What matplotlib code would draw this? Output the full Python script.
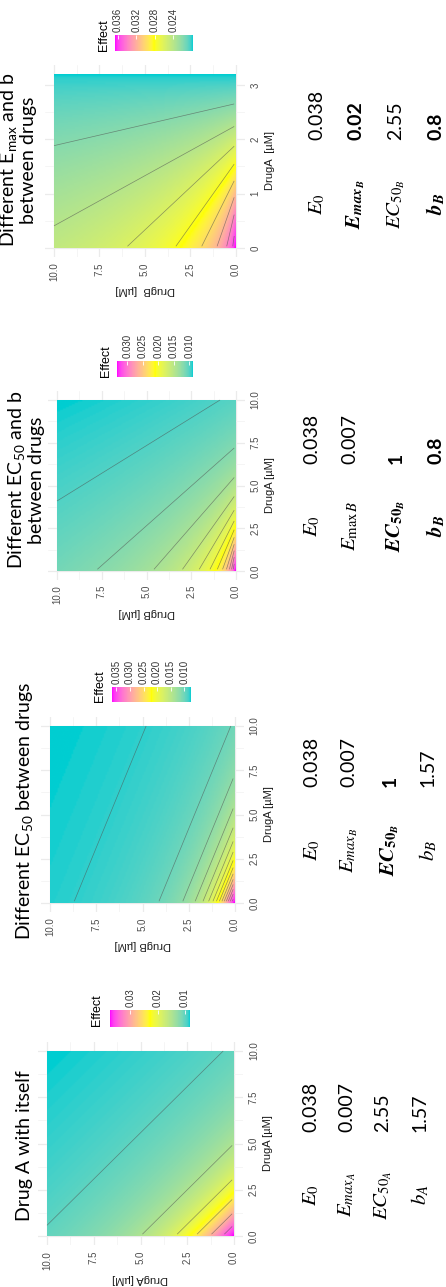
import numpy as np
import matplotlib
matplotlib.use("Agg")
import matplotlib.pyplot as plt
from matplotlib.colors import ListedColormap, to_rgb

W, H, DPI = 446, 1287, 100

# ---- panel content (landscape order, drawn rotated on a portrait page) ----
titles = [
    "Different E$_\\mathregular{max}$ and b\nbetween drugs",
    "Different EC$_\\mathregular{50}$ and b\nbetween drugs",
    "Different EC$_\\mathregular{50}$ between drugs",
    "Drug A with itself",
]
e0 = [0.038, 0.038, 0.038, 0.038]
emax_a = [0.007, 0.007, 0.007, 0.007]
ec50_a = [2.55, 2.55, 2.55, 2.55]
hill_a = [1.57, 1.57, 1.57, 1.57]
emax_b = [0.02, 0.007, 0.007, 0.007]
ec50_b = [2.55, 1, 1, 2.55]
hill_b = [0.8, 0.8, 1.57, 1.57]

dose_a_max = [3.2, 10, 10, 10]
dose_b_max = [10, 10, 10, 10]
x_labels = ["DrugB  [\u00b5M]", "DrugB [\u00b5M]", "DrugB [\u00b5M]", "DrugA [\u00b5M]"]
y_labels = ["DrugA  [\u00b5M]", "DrugA [\u00b5M]", "DrugA [\u00b5M]", "DrugA [\u00b5M]"]
a_ticks = [[0, 1, 2, 3], [0, 2.5, 5, 7.5, 10], [0, 2.5, 5, 7.5, 10], [0, 2.5, 5, 7.5, 10]]
a_tick_labels = [["0", "1", "2", "3"], ["0.0", "2.5", "5.0", "7.5", "10.0"],
                 ["0.0", "2.5", "5.0", "7.5", "10.0"], ["0.0", "2.5", "5.0", "7.5", "10.0"]]
a_minor = [[0.5, 1.5, 2.5], [1.25, 3.75, 6.25, 8.75], [1.25, 3.75, 6.25, 8.75], [1.25, 3.75, 6.25, 8.75]]
b_ticks = [0, 2.5, 5, 7.5, 10]
b_tick_labels = ["0.0", "2.5", "5.0", "7.5", "10.0"]
b_minor = [1.25, 3.75, 6.25, 8.75]

contour_step = [0.002, 0.002, 0.002, 0.005]
cbar_ticks = [[0.024, 0.028, 0.032, 0.036],
              [0.010, 0.015, 0.020, 0.025, 0.030],
              [0.010, 0.015, 0.020, 0.025, 0.030, 0.035],
              [0.01, 0.02, 0.03]]
cbar_fmt = ["{:.3f}", "{:.3f}", "{:.3f}", "{:.2f}"]

symbols = [
    [r"$E_0$", r"$\mathbfit{E}_{\mathbfit{max}_{\mathbfit{B}}}$", r"$EC_{50_B}$", r"$\mathbfit{b}_{\mathbfit{B}}$"],
    [r"$E_0$", r"$E_{\mathrm{max}\,B}$", r"$\mathbfit{EC}_{\mathbf{50}_{\mathbfit{B}}}$", r"$\mathbfit{b}_{\mathbfit{B}}$"],
    [r"$E_0$", r"$E_{max_B}$", r"$\mathbfit{EC}_{\mathbf{50}_{\mathbfit{B}}}$", r"$b_B$"],
    [r"$E_0$", r"$E_{max_A}$", r"$EC_{50_A}$", r"$b_A$"],
]
table_values = [
    [e0[0], emax_b[0], ec50_b[0], hill_b[0]],
    [e0[1], emax_b[1], ec50_b[1], hill_b[1]],
    [e0[2], emax_b[2], ec50_b[2], hill_b[2]],
    [e0[3], emax_a[3], ec50_a[3], hill_a[3]],
]
bold_rows = [[False, True, False, True], [False, False, True, True],
             [False, False, True, False], [False, False, False, False]]

# ---- layout on the portrait page (pixels) ----
raster_px = [(54, 236, 74, 248), (57, 236, 400, 571), (50, 235, 726, 903), (47, 234, 1051, 1236)]
cbar_px = [(115, 193, 35, 51), (117, 193, 361, 377), (112, 191, 687, 702), (110, 190, 1010, 1027)]
effect_px = [(104, 51), (106, 377), (100, 702), (97, 1026)]
title_px = [(18, 160), (26, 480), (25, 811), (25, 1146)]
col_x = [[317, 356, 396, 436], [312, 350, 396, 436], [312, 349, 390, 428], [311, 347, 383, 420]]
value_end_y = [140, 464, 787, 1132]
symbol_mid_y = [204, 526, 850, 1195]

# low -> mid -> high
gradient_colors = ["#00CED1", "#FFFF00", "#FF00FF"]


# ---- gradient interpolated in CIE Lab ----
_M = np.array([[0.4124564, 0.3575761, 0.1804375],
               [0.2126729, 0.7151522, 0.0721750],
               [0.0193339, 0.1191920, 0.9503041]])
_WHITE = np.array([0.95047, 1.0, 1.08883])


def _rgb_to_lab(rgb):
    c = np.asarray(rgb, float)
    lin = np.where(c <= 0.04045, c / 12.92, ((c + 0.055) / 1.055) ** 2.4)
    xyz = _M @ lin / _WHITE
    f = np.where(xyz > (6 / 29) ** 3, np.cbrt(xyz), xyz / (3 * (6 / 29) ** 2) + 4 / 29)
    return np.array([116 * f[1] - 16, 500 * (f[0] - f[1]), 200 * (f[1] - f[2])])


def _lab_to_rgb(lab):
    L, a, b = lab
    fy = (L + 16) / 116
    fx = fy + a / 500
    fz = fy - b / 200
    f = np.array([fx, fy, fz])
    xyz = np.where(f > 6 / 29, f ** 3, 3 * (6 / 29) ** 2 * (f - 4 / 29)) * _WHITE
    lin = np.linalg.solve(_M, xyz)
    lin = np.clip(lin, 0, 1)
    c = np.where(lin <= 0.0031308, 12.92 * lin, 1.055 * lin ** (1 / 2.4) - 0.055)
    return np.clip(c, 0, 1)


def lab_colormap(hexes, n=256):
    labs = [_rgb_to_lab(to_rgb(h)) for h in hexes]
    pos = np.linspace(0, 1, len(labs))
    out = []
    for t in np.linspace(0, 1, n):
        k = min(np.searchsorted(pos, t, side="right") - 1, len(labs) - 2)
        u = (t - pos[k]) / (pos[k + 1] - pos[k])
        out.append(_lab_to_rgb((1 - u) * labs[k] + u * labs[k + 1]))
    return ListedColormap(out, name="effect")


cmap = lab_colormap(gradient_colors)


def loewe_surface(A, B, e0v, ea, ca, ba, eb, cb, bb):
    """Combined effect under Loewe additivity (bisection on the effect)."""
    lo = np.full(A.shape, min(ea, eb) + 1e-12)
    hi = np.full(A.shape, e0v - 1e-12)

    def dose(E, emax, c, b):
        out = np.full(E.shape, np.inf)
        ok = E > emax
        out[ok] = c * ((e0v - E[ok]) / (E[ok] - emax)) ** (1.0 / b)
        return out

    for _ in range(70):
        mid = 0.5 * (lo + hi)
        f = A / dose(mid, ea, ca, ba) + B / dose(mid, eb, cb, bb) - 1.0
        up = f > 0
        hi = np.where(up, mid, hi)
        lo = np.where(up, lo, mid)
    return 0.5 * (lo + hi)


def fbox(x0, x1, y0, y1):
    return [x0 / W, 1 - y1 / H, (x1 - x0) / W, (y1 - y0) / H]


def fpt(x, y):
    return x / W, 1 - y / H


fig = plt.figure(figsize=(W / DPI, H / DPI), dpi=DPI)
fig.patch.set_facecolor("white")

tick_font = dict(family="Liberation Sans", size=7, color="#4D4D4D")

for i in range(4):
    amax, bmax = dose_a_max[i], dose_b_max[i]
    a = np.linspace(amax / 100, amax, 120)
    b = np.linspace(bmax / 100, bmax, 120)
    BB, AA = np.meshgrid(b, a)
    Z = loewe_surface(AA, BB, e0[i], emax_a[i], ec50_a[i], hill_a[i],
                      emax_b[i], ec50_b[i], hill_b[i])
    zmin, zmax = Z.min(), Z.max()

    x0, x1, y0, y1 = raster_px[i]
    mx, my = 0.05 * (x1 - x0), 0.05 * (y1 - y0)
    ax = fig.add_axes(fbox(x0 - mx, x1 + mx, y0 - my, y1 + my))
    ax.set_facecolor("white")
    for s in ax.spines.values():
        s.set_visible(False)

    im = ax.imshow(Z, extent=(0, bmax, 0, amax), origin="lower", aspect="auto",
                   cmap=cmap, vmin=zmin, vmax=zmax, interpolation="bilinear", zorder=2)
    step = contour_step[i]
    levels = np.arange(np.ceil(zmin / step) * step, zmax, step)
    levels = levels[(levels > zmin + 0.25 * step) & (levels < zmax - 0.05 * step)]
    ax.contour(BB, AA, Z, levels=levels, colors="#505050", linewidths=0.5,
               alpha=0.6, zorder=3)

    ax.set_xlim(bmax * 1.05, -0.05 * bmax)
    ax.set_ylim(-0.05 * amax, amax * 1.05)
    ax.set_xticks(b_ticks)
    ax.set_xticks(b_minor, minor=True)
    ax.set_yticks(a_ticks[i])
    ax.set_yticks(a_minor[i], minor=True)
    ax.grid(which="major", color="#EBEBEB", lw=0.9, zorder=0)
    ax.grid(which="minor", color="#F2F2F2", lw=0.5, zorder=0)
    ax.set_axisbelow(True)
    ax.tick_params(which="both", length=0)

    ax.set_xticklabels(b_tick_labels, rotation=90, ha="center", va="top", **tick_font)
    ax.yaxis.tick_right()
    ax.set_yticklabels(a_tick_labels[i], rotation=90, ha="left", va="center", **tick_font)
    ax.tick_params(axis="x", pad=4)
    ax.tick_params(axis="y", pad=4)

    ax.set_xlabel(x_labels[i], rotation=180, family="Liberation Sans", size=8,
                  color="#1A1A1A", labelpad=3)
    ax.yaxis.set_label_position("right")
    ax.set_ylabel(y_labels[i], rotation=90, family="Liberation Sans", size=8,
                  color="#1A1A1A", labelpad=3)

    # colour bar
    cx0, cx1, cy0, cy1 = cbar_px[i]
    cax = fig.add_axes(fbox(cx0, cx1, cy0, cy1))
    cb = fig.colorbar(im, cax=cax, orientation="horizontal", ticks=cbar_ticks[i])
    cb.outline.set_visible(False)
    cax.invert_xaxis()
    cax.xaxis.set_ticks_position("top")
    cax.tick_params(axis="x", which="both", direction="in", length=3, width=0.6,
                    color="white", pad=2, labeltop=True, labelbottom=False)
    cax.set_xticklabels([cbar_fmt[i].format(t) for t in cbar_ticks[i]],
                        rotation=90, ha="center", va="bottom",
                        family="Liberation Sans", size=7, color="#333333")
    cax.minorticks_off()
    ex, ey = effect_px[i]
    fig.text(*fpt(ex, ey), "Effect", rotation=90, ha="center", va="bottom",
             family="Liberation Sans", size=9, color="black")

    # title
    tx, ty = title_px[i]
    fig.text(*fpt(tx, ty), titles[i], rotation=90, ha="center", va="center",
             family="Lato", size=14, color="black", multialignment="center",
             linespacing=1.05)

    # parameter table
    for r in range(4):
        fig.text(*fpt(col_x[i][r], symbol_mid_y[i]), symbols[i][r], rotation=90,
                 ha="center", va="center", size=15, math_fontfamily="stix",
                 color="black")
        fig.text(*fpt(col_x[i][r], value_end_y[i]), "{:g}".format(table_values[i][r]),
                 rotation=90, ha="center", va="bottom", family="Lato", size=14,
                 weight="bold" if bold_rows[i][r] else "normal", color="black")

fig.savefig("out.png", dpi=DPI, facecolor="white")
